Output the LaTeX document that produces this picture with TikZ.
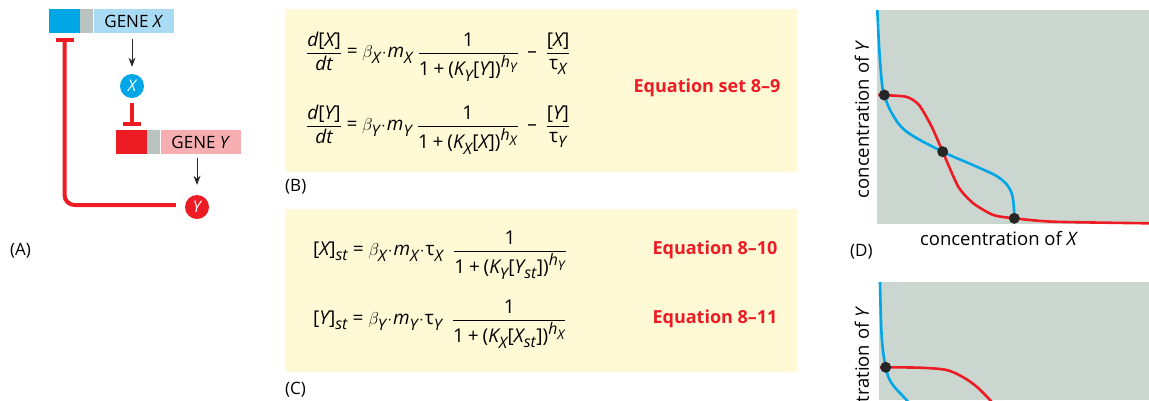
\documentclass[tikz,border=0pt]{standalone}
\usepackage{amsmath}
\usepackage{fontspec}
\setmainfont{Open Sans}
\usepackage[italic]{mathastext}
\usetikzlibrary{positioning,calc,arrows.meta}

\definecolor{xdark}{RGB}{0,166,230}
\definecolor{xlight}{RGB}{169,220,244}
\definecolor{promo}{RGB}{185,195,191}
\definecolor{ydark}{RGB}{237,28,36}
\definecolor{ylight}{RGB}{246,174,176}
\definecolor{eqbg}{RGB}{255,249,214}
\definecolor{plotbg}{RGB}{204,214,209}

\newcommand{\cc}[1]{\textup{[}#1\textup{]}}
\newcommand{\one}{\textup{1}}
\newcommand{\pl}{\mathbin{\textup{+}}}
\newcommand{\eqsign}{\mathrel{\textup{=}}}
\newcommand{\mn}{\mathbin{\textup{--}}}
\newcommand{\lpar}{\textup{(}}
\newcommand{\rpar}{\textup{)}}
\newcommand{\ta}{\textup{τ}}

\begin{document}
\begin{tikzpicture}[x=1pt, y=-1pt,
    font=\fontsize{17}{20}\selectfont,
    gene/.style={rectangle, inner sep=0pt, minimum height=24pt},
    prot/.style={circle, inner sep=0pt, minimum size=24pt, text=white,
                 font=\fontsize{16}{18}\selectfont\itshape},
    expr/.style={-{Stealth[length=9pt,width=7pt]}, line width=1pt, black!85},
    inhib/.style={-{Bar[width=18pt,line width=4pt]}, line width=4pt, ydark},
    eqbox/.style={fill=eqbg, inner sep=0pt, anchor=north west,
                  minimum width=512pt, minimum height=163pt},
    eqn/.style={anchor=base west, inner sep=0pt, font=\fontsize{19}{22}\selectfont},
    eqlabel/.style={text=ydark, font=\fontsize{18}{20}\selectfont\bfseries},
    panel/.style={anchor=west, inner sep=0pt},
    axis/.style={font=\fontsize{18.5}{20}\selectfont},
    nullcline/.style={line width=2.6pt},
    dot/.style={circle, fill=black!85, inner sep=0pt, minimum size=11pt}
]
\useasboundingbox (0,0) rectangle (1149,400);

% (A) mutual repression
\node[gene, fill=xdark, minimum width=31pt] (gXp) at (64.5,21) {};
\node[gene, fill=promo, minimum width=13pt, right=0pt of gXp] (gXm) {};
\node[gene, fill=xlight, minimum width=80pt, right=0pt of gXm] (gXl) {GENE \textit{X}};
\node[prot, fill=xdark] (X) at (132,86) {X};

\node[gene, fill=ydark, minimum width=31pt] (gYp) at (131.5,142) {};
\node[gene, fill=promo, minimum width=13pt, right=0pt of gYp] (gYm) {};
\node[gene, fill=ylight, minimum width=80pt, right=0pt of gYm] (gYl) {GENE \textit{Y}};
\node[prot, fill=ydark] (Y) at (197,207) {Y};

\draw[expr, shorten <=6pt, shorten >=7pt] (gXl.south -| X.north) -- (X.north);
\draw[inhib, shorten <=5pt, shorten >=4pt] (X.south) -- (gYp.north -| X.south);
\draw[expr, shorten <=4pt, shorten >=10pt] (gYl.south -| Y.north) -- (Y.north);
\draw[inhib, rounded corners=10pt, shorten <=9pt, shorten >=5pt]
    ([yshift=2pt]Y.west) -| (gXp.south);

\node[panel] (lA) at (10,251) {(A)};

% (B) rate equations
\node[eqbox] (boxB) at (285,9) {};
\node[eqn] (rateX) at (306,57.75)
    {$\dfrac{d\cc{X}}{dt} \eqsign \beta_X\!\cdot\! m_X\;\dfrac{\one}{\one\pl\lpar K_Y\cc{Y}\rpar^{h_Y}}\;\mn\;\dfrac{\cc{X}}{\ta_X}$};
\node[eqn] (rateY) at (306,130.75)
    {$\dfrac{d\cc{Y}}{dt} \eqsign \beta_Y\!\cdot\! m_Y\;\dfrac{\one}{\one\pl\lpar K_X\cc{X}\rpar^{h_X}}\;\mn\;\dfrac{\cc{Y}}{\ta_Y}$};
\node[eqlabel] (set89) at (707,88) {Equation set 8--9};
\node[panel] (lB) at (285,187) {(B)};

% (C) steady state
\node[eqbox] (boxC) at (285,209) {};
\node[eqn] (stX) at (313,255.75)
    {$\cc{X}_{st} \eqsign \beta_X\!\cdot\! m_X\!\cdot\!\ta_X\;\;\dfrac{\one}{\one\pl\lpar K_Y\cc{Y_{st}}\rpar^{h_Y}}$};
\node[eqn] (stY) at (313,324.75)
    {$\cc{Y}_{st} \eqsign \beta_Y\!\cdot\! m_Y\!\cdot\!\ta_Y\;\;\dfrac{\one}{\one\pl\lpar K_X\cc{X_{st}}\rpar^{h_X}}$};
\node[eqlabel] (eq810) at (715,250) {Equation 8--10};
\node[eqlabel] (eq811) at (715,319) {Equation 8--11};
\node[panel] (lC) at (285,390) {(C)};

% (D) nullclines, three crossings
\fill[plotbg] (877,10) rectangle (1149,224);
\coordinate (s1) at (884.3,95);
\coordinate (s2) at (942.7,151.7);
\coordinate (s3) at (1014.3,218.3);
\draw[nullcline, xdark] plot[smooth, tension=0.6] coordinates {(877.3,10) (879.3,50)
    (882,84) (s1) (891.7,113) (906.7,131.7) (s2) (976.7,166.7) (1000,178.3)
    (1011.7,193.3) (s3)};
\draw[nullcline, ydark] plot[smooth, tension=0.4] coordinates {(878.3,95) (906,96.7)
    (919,105) (931.7,126.7) (s2) (958.3,186.7) (973.3,203.3) (993.3,215) (s3)
    (1053.3,221.7) (1149,223.3)};
\foreach \s in {s1,s2,s3}
    \node[dot] at (\s) {};
\node[axis, rotate=90, anchor=east] (yD) at (862,37) {concentration of \textit{Y}};
\node[axis] (xD) at (999,239) {concentration of \textit{X}};
\node[panel] (lD) at (850,252) {(D)};

% (E) nullclines, one crossing
\fill[plotbg] (879,282) rectangle (1149,400);
\coordinate (e1) at (885.7,367.3);
\draw[nullcline, xdark] plot[smooth, tension=0.6] coordinates {(880,282) (881.7,336.7)
    (e1) (891.7,383.3) (905,398.3) (915,410)};
\draw[nullcline, ydark] plot[smooth, tension=0.5] coordinates {(880,367.3) (920,367.7)
    (946.7,370) (963.3,377.3) (976.7,386.7) (990,400) (1000,412)};
\node[dot] at (e1) {};
\node[axis, rotate=90, anchor=east] (yE) at (862,303) {concentration of \textit{Y}};
\end{tikzpicture}
\end{document}
